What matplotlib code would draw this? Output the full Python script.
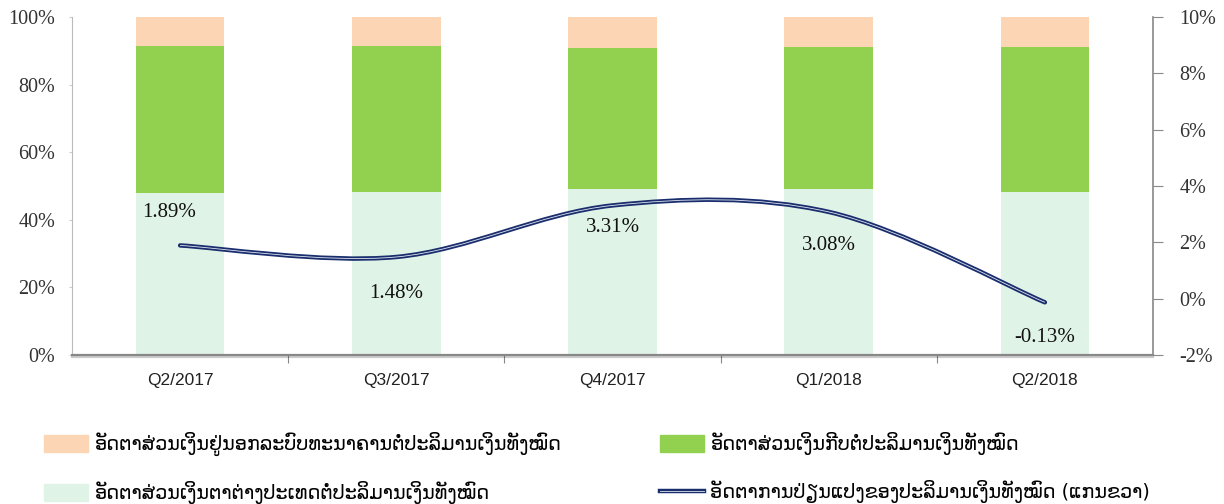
import matplotlib.pyplot as plt
import matplotlib.patheffects as pe
from matplotlib.path import Path
from matplotlib.patches import PathPatch, Patch
from matplotlib.lines import Line2D
from matplotlib.ticker import FuncFormatter

quarters = ["Q2/2017", "Q3/2017", "Q4/2017", "Q1/2018", "Q2/2018"]
# shares of total money supply (%), stacked to 100
foreign_share = [48.0, 48.1, 49.1, 49.0, 48.3]   # light mint, bottom
kip_share = [43.4, 43.4, 41.7, 42.0, 42.8]       # green, middle
outside_share = [8.6, 8.5, 9.2, 9.0, 8.9]        # peach, top
# growth of total money supply (%), right axis
growth = [1.89, 1.48, 3.31, 3.08, -0.13]
growth_labels = ["1.89%", "1.48%", "3.31%", "3.08%", "-0.13%"]
label_offsets = [(-8, 24), (0, -26), (0, -16), (0, -24), (0, -25)]

legend_names = [
    "ອັດຕາສ່ວນເງິນຢູ່ນອກລະບົບທະນາຄານຕໍ່ປະລິມານເງິນທັງໝົດ",
    "ອັດຕາສ່ວນເງິນຕາຕ່າງປະເທດຕໍ່ປະລິມານເງິນທັງໝົດ",
    "ອັດຕາສ່ວນເງິນກີບຕໍ່ປະລິມານເງິນທັງໝົດ",
    "ອັດຕາການປ່ຽນແປງຂອງປະລິມານເງິນທັງໝົດ (ແກນຂວາ)",
]

c_peach = "#FCD5B4"
c_green = "#92D050"
c_mint = "#DFF3E7"
c_navy = "#1A2E6E"
serif = "Liberation Serif"

fig = plt.figure(figsize=(12.24, 5.04), dpi=100)
ax = fig.add_axes([72 / 1224, 149 / 504, 1081 / 1224, 338 / 504])
ax2 = ax.twinx()

x = list(range(len(quarters)))
ax.bar(x, foreign_share, width=0.41, color=c_mint, zorder=2)
ax.bar(x, kip_share, width=0.41, bottom=foreign_share, color=c_green, zorder=2)
bottoms = [a + b for a, b in zip(foreign_share, kip_share)]
ax.bar(x, outside_share, width=0.41, bottom=bottoms, color=c_peach, zorder=2)

ax.set_xlim(-0.5, 4.5)
ax.set_ylim(0, 100)
ax.set_yticks([0, 20, 40, 60, 80, 100])
ax.yaxis.set_major_formatter(FuncFormatter(lambda v, p: f"{v:.0f}%"))
ax.set_xticks([0.5, 1.5, 2.5, 3.5])
ax.set_xticklabels([])
ax.set_xticks(x, minor=True)
ax.set_xticklabels(quarters, minor=True, fontsize=12.5, family="Liberation Sans", color="#222222")
ax.tick_params(axis="x", which="major", length=6, color="#888888", direction="out")
ax.tick_params(axis="x", which="minor", length=0, pad=13)
ax.tick_params(axis="y", length=2, color="#cccccc", pad=10, labelsize=14.5, labelcolor="#333333")
for t in ax.get_yticklabels():
    t.set_family(serif)

ax.spines["top"].set_visible(False)
ax.spines["right"].set_visible(False)
ax.spines["left"].set_color("#bbbbbb")
ax.spines["left"].set_linestyle((0, (1, 1)))
ax.spines["bottom"].set_color("#888888")
ax.spines["bottom"].set_linewidth(1.6)
ax.spines["bottom"].set_path_effects([pe.SimpleLineShadow(offset=(0, -1.5), alpha=0.2), pe.Normal()])

ax2.set_ylim(-2, 10)
ax2.set_yticks([-2, 0, 2, 4, 6, 8, 10])
ax2.yaxis.set_major_formatter(FuncFormatter(lambda v, p: f"{v:.0f}%"))
ax2.tick_params(axis="y", length=7, color="#888888", pad=12, labelsize=14.5, labelcolor="#333333")
for t in ax2.get_yticklabels():
    t.set_family(serif)
for s in ("top", "left", "bottom"):
    ax2.spines[s].set_visible(False)
ax2.spines["right"].set_color("#888888")
ax2.spines["right"].set_linewidth(1.2)

# smoothed line (Excel-style) drawn as cubic Bezier segments
pts = list(zip(x, growth))
verts = [pts[0]]
codes = [Path.MOVETO]
n = len(pts)
for i in range(n - 1):
    p0 = pts[max(i - 1, 0)]
    p1 = pts[i]
    p2 = pts[i + 1]
    p3 = pts[min(i + 2, n - 1)]
    c1 = (p1[0] + (p2[0] - p0[0]) / 6, p1[1] + (p2[1] - p0[1]) / 6)
    c2 = (p2[0] - (p3[0] - p1[0]) / 6, p2[1] - (p3[1] - p1[1]) / 6)
    verts += [c1, c2, p2]
    codes += [Path.CURVE4] * 3
curve = Path(verts, codes)
ax2.add_patch(PathPatch(curve, facecolor="none", edgecolor=c_navy, lw=3.2, capstyle="round", zorder=3))
ax2.add_patch(PathPatch(curve, facecolor="none", edgecolor="#dfe4f0", lw=0.6, zorder=4))

for xi, yi, lab, off in zip(x, growth, growth_labels, label_offsets):
    ax2.annotate(lab, (xi, yi), xytext=off, textcoords="offset points",
                 ha="center", va="center", fontsize=15, family=serif, color="#111111", zorder=5)

line_handle = Line2D([], [], color=c_navy, lw=3.2,
                     path_effects=[pe.Stroke(linewidth=3.2, foreground=c_navy),
                                   pe.Stroke(linewidth=0.6, foreground="#dfe4f0")])
handles = [Patch(color=c_peach), Patch(color=c_mint), Patch(color=c_green), line_handle]
fig.legend(handles, legend_names, ncol=2, loc="lower left", bbox_to_anchor=(0.022, -0.035),
           frameon=False, handlelength=2.3, handleheight=1.0,
           handletextpad=0.35, columnspacing=5.1, labelspacing=1.3,
           prop={"family": ["DejaVu Sans"], "size": 13.8})

fig.savefig("out.png", dpi=100)
